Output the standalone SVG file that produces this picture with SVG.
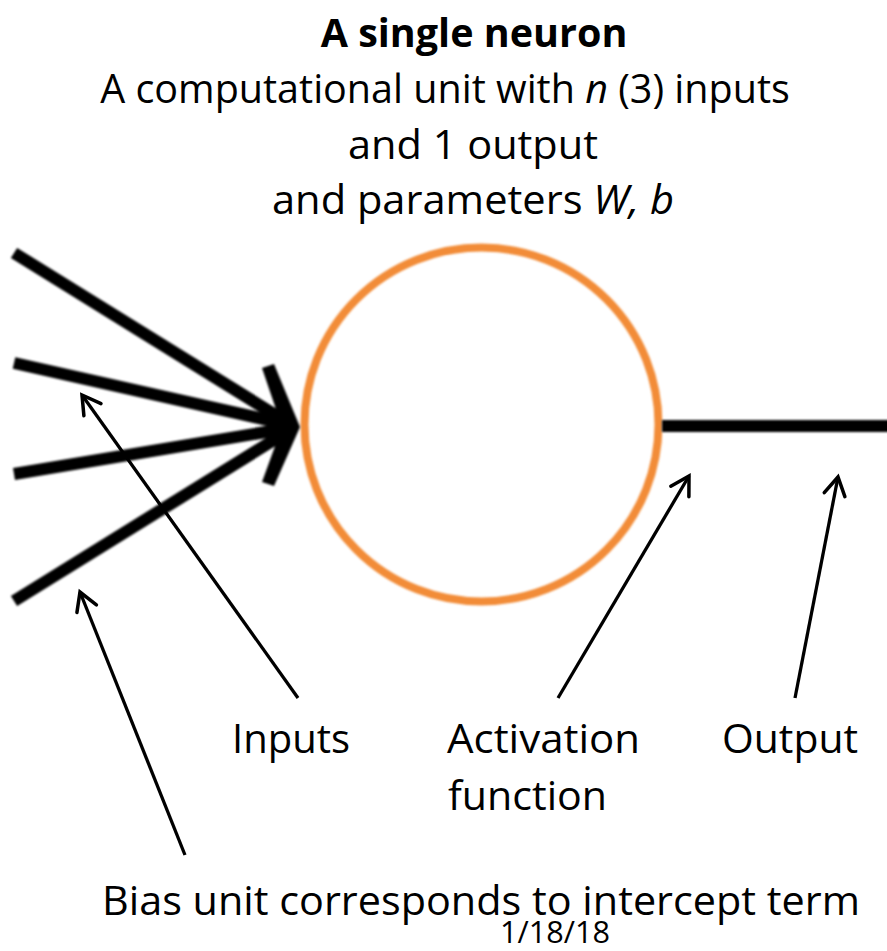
<svg xmlns="http://www.w3.org/2000/svg" width="887" height="951" viewBox="0 0 887 951">
  <defs>
    <style>
      text { font-family: "Open Sans", "Liberation Sans", sans-serif; fill: #000; }
      .t { font-size: 39.5px; }
      .title { font-size: 39.5px; font-weight: bold; }
      .lbl { font-size: 39.5px; }
      .date { font-size: 31px; }
      .thick { stroke: #000; stroke-width: 12; fill: none; stroke-linecap: butt; }
      .thin { stroke: #000; stroke-width: 3.3; fill: none; marker-end: url(#open); }
    </style>
    <filter id="soft" filterUnits="userSpaceOnUse" x="0" y="0" width="887" height="951">
      <feGaussianBlur stdDeviation="1.3"/>
    </filter>
    <marker id="open" markerUnits="userSpaceOnUse" viewBox="-22 -14 26 28" refX="0" refY="0" markerWidth="26" markerHeight="28" orient="auto">
      <path d="M -18,-10.5 L 0,0 L -18,10.5" fill="none" stroke="#000" stroke-width="3.5" stroke-linejoin="miter" stroke-linecap="round"/>
    </marker>
  </defs>
  <rect width="887" height="951" fill="#fff"/>

  <g id="heading">
    <text class="title" x="474" y="47" text-anchor="middle">A single neuron</text>
    <text class="t" x="445" y="103" text-anchor="middle">A computational unit with <tspan font-style="italic">n</tspan> (3) inputs</text>
    <text class="t" x="348" y="159" textLength="250" lengthAdjust="spacingAndGlyphs">and 1 output</text>
    <text class="t" x="272" y="214" textLength="402" lengthAdjust="spacingAndGlyphs">and parameters <tspan font-style="italic">W, b</tspan></text>
  </g>

  <g id="neuron" filter="url(#soft)">
    <circle cx="481.5" cy="424.5" r="177" fill="none" stroke="#F28C38" stroke-width="8"/>
  </g>

  <g id="inputs-lines" filter="url(#soft)">
    <line class="thick" x1="14" y1="253" x2="290" y2="424"/>
    <line class="thick" x1="14" y1="363" x2="290" y2="425"/>
    <line class="thick" x1="14" y1="474" x2="290" y2="428"/>
    <line class="thick" x1="14" y1="601" x2="290" y2="430"/>
    <polygon points="262,368 274,364 300,427 274,486 262,482 282,427" fill="#000"/>
    <polygon points="272,410 298,427 272,444" fill="#000"/>
  </g>

  <g id="output-line" filter="url(#soft)">
    <line class="thick" x1="662" y1="426" x2="890" y2="426" stroke-width="10"/>
  </g>

  <g id="connectors">
    <line class="thin" x1="298" y1="698" x2="82" y2="395"/>
    <line class="thin" x1="185" y1="855" x2="80" y2="592"/>
    <line class="thin" x1="558" y1="698" x2="689" y2="476"/>
    <line class="thin" x1="795" y1="698" x2="838" y2="477"/>
  </g>

  <g id="label-inputs">
    <text class="lbl" x="232" y="753" textLength="118" lengthAdjust="spacingAndGlyphs">Inputs</text>
  </g>
  <g id="label-activation">
    <text class="lbl" x="447" y="753" textLength="193" lengthAdjust="spacingAndGlyphs">Activation</text>
    <text class="lbl" x="448" y="810" textLength="159" lengthAdjust="spacingAndGlyphs">function</text>
  </g>
  <g id="label-output">
    <text class="lbl" x="722" y="753" textLength="136" lengthAdjust="spacingAndGlyphs">Output</text>
  </g>
  <g id="label-bias">
    <text class="lbl" x="102" y="915" textLength="758" lengthAdjust="spacingAndGlyphs">Bias unit corresponds to intercept term</text>
  </g>
  <g id="date">
    <text class="date" x="500" y="943" textLength="110" lengthAdjust="spacingAndGlyphs">1/18/18</text>
  </g>
</svg>
